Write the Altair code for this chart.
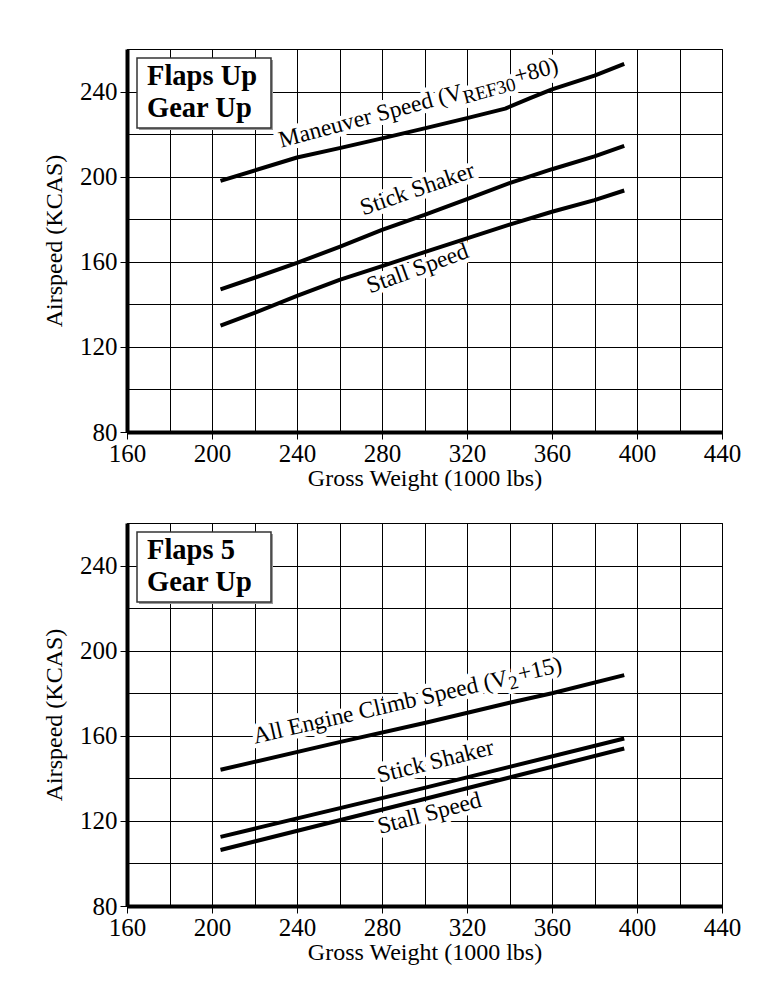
import altair as alt
import pandas as pd

FONT = "Liberation Serif"

# ---------------- data ----------------
# Panel 1 : Flaps Up / Gear Up
p1_man_w = [204, 240, 260, 280, 300, 320, 338, 350, 360, 380, 394]
p1_man_v = [198, 209, 213.4, 218, 222.7, 227.5, 232, 237, 241, 247.5, 253]
p1_w = [204, 220, 240, 260, 280, 300, 320, 340, 360, 380, 394]
p1_ss_v = [147, 152.5, 159.5, 167, 175, 182, 189.5, 197, 203.5, 209.5, 214.5]
p1_stall_v = [130, 136, 144, 151.5, 158, 164.5, 171, 177.5, 183.5, 189, 193.5]

# Panel 2 : Flaps 5 / Gear Up
p2_climb_w = [204, 260, 300, 340, 360, 394]
p2_climb_v = [144, 157, 166, 175.5, 180, 188.5]
p2_w = [204, 300, 394]
p2_ss_v = [112.5, 135.5, 158.7]
p2_stall_v = [106.3, 130.3, 154]

box_titles = [["Flaps Up", "Gear Up"], ["Flaps 5", "Gear Up"]]

x_title = "Gross Weight (1000 lbs)"
y_title = "Airspeed (KCAS)"
x_ticks = list(range(160, 441, 20))
y_ticks = list(range(80, 261, 20))

# curve labels: anchor weight, anchor speed, angle, pieces (text, size, dx, dy)
p1_labels = [
    (232.5, 213.6, 345, [("Maneuver Speed (V", 23.5, 0, 0), ("REF30", 19, 189, 5), ("+80)", 23.5, 244, -1)]),
    (271.2, 181.8, 341, [("Stick Shaker", 23.5, 0, 0)]),
    (274.4, 145.1, 340, [("Stall Speed", 23.5, 0, 0)]),
]
p2_labels = [
    (220.2, 156.3, 347, [("All Engine Climb Speed (V", 23.5, 0, 0), ("2", 19, 261, 5), ("+15)", 23.5, 272, -1)]),
    (278.7, 137.9, 346, [("Stick Shaker", 23.5, 0, 0)]),
    (279.0, 113.8, 345, [("Stall Speed", 23.5, 0, 0)]),
]


def lines_frame(series):
    rows = []
    for name, ws, vs in series:
        for w, v in zip(ws, vs):
            rows.append({"series": name, "w": w, "v": v})
    return pd.DataFrame(rows)


p1_df = lines_frame([
    ("Maneuver", p1_man_w, p1_man_v),
    ("Stick Shaker", p1_w, p1_ss_v),
    ("Stall", p1_w, p1_stall_v),
])
p2_df = lines_frame([
    ("Climb", p2_climb_w, p2_climb_v),
    ("Stick Shaker", p2_w, p2_ss_v),
    ("Stall", p2_w, p2_stall_v),
])

xscale = alt.Scale(domain=[160, 440], nice=False, zero=False)
yscale = alt.Scale(domain=[80, 260], nice=False, zero=False)

tick_cond = {"condition": {"test": "datum.value % 40 === 0", "value": 1}, "value": 0}

x_axis = alt.Axis(
    values=x_ticks,
    labelExpr="datum.value % 40 === 0 ? datum.label : ''",
    tickOpacity=tick_cond,
    title=x_title,
    titlePadding=0,
    labelPadding=2,
)
y_axis = alt.Axis(
    values=y_ticks,
    labelExpr="datum.value % 40 === 0 ? datum.label : ''",
    tickOpacity=tick_cond,
    title=y_title,
    titlePadding=13,
    labelPadding=3,
)

XENC = alt.X("w:Q", scale=xscale, axis=x_axis, title=x_title)
YENC = alt.Y("v:Q", scale=yscale, axis=y_axis, title=y_title)


def panel(df, labels, box):
    lines = alt.Chart(df).mark_line(
        color="black", strokeWidth=4, strokeCap="butt", strokeJoin="round"
    ).encode(x=XENC, y=YENC, detail="series:N")
    halos, texts = [], []
    for w, v, ang, pieces in labels:
        d = pd.DataFrame({"w": [w], "v": [v]})
        for txt, size, dx, dy in pieces:
            halos.append(alt.Chart(d).mark_text(
                font=FONT, fontSize=size, angle=ang, align="left", baseline="alphabetic",
                dx=dx, dy=dy, color="white", stroke="white", strokeWidth=9, strokeJoin="round",
            ).encode(x=XENC, y=YENC, text=alt.value(txt)))
            texts.append(alt.Chart(d).mark_text(
                font=FONT, fontSize=size, angle=ang, align="left", baseline="alphabetic",
                dx=dx, dy=dy, color="black",
            ).encode(x=XENC, y=YENC, text=alt.value(txt)))
    one = pd.DataFrame({"k": [0]})
    shadow = alt.Chart(one).mark_rect(fill="#9a9a9a").encode(
        x=alt.value(12), x2=alt.value(146), y=alt.value(11), y2=alt.value(81))
    rect = alt.Chart(one).mark_rect(fill="white", stroke="#333333", strokeWidth=1.5).encode(
        x=alt.value(10), x2=alt.value(144), y=alt.value(9), y2=alt.value(79))
    btxt = []
    for i, line in enumerate(box):
        btxt.append(alt.Chart(one).mark_text(
            font=FONT, fontSize=28.5, fontWeight="bold", align="left", baseline="alphabetic",
            color="black",
        ).encode(x=alt.value(20), y=alt.value(36 + 32 * i), text=alt.value(line)))
    return alt.layer(*halos, lines, *texts, shadow, rect, *btxt).properties(
        width=595, height=383
    )


chart = alt.vconcat(
    panel(p1_df, p1_labels, box_titles[0]),
    panel(p2_df, p2_labels, box_titles[1]),
    spacing=19,
).properties(
    padding={"left": 34, "top": 28, "right": 5, "bottom": 5},
    background="white",
).configure_view(
    stroke="black", strokeWidth=1
).configure_axis(
    labelFont=FONT, labelFontSize=25, labelColor="black",
    labelFlush=False, labelOverlap=False,
    titleFont=FONT, titleFontSize=24, titleFontWeight="normal", titleColor="black",
    domainColor="black", domainWidth=4,
    tickColor="black", tickSize=7, tickWidth=1,
    grid=True, gridColor="black", gridOpacity=1, gridWidth=1,
)

chart.save("out.html", embed_options={"renderer": "svg", "actions": False})
